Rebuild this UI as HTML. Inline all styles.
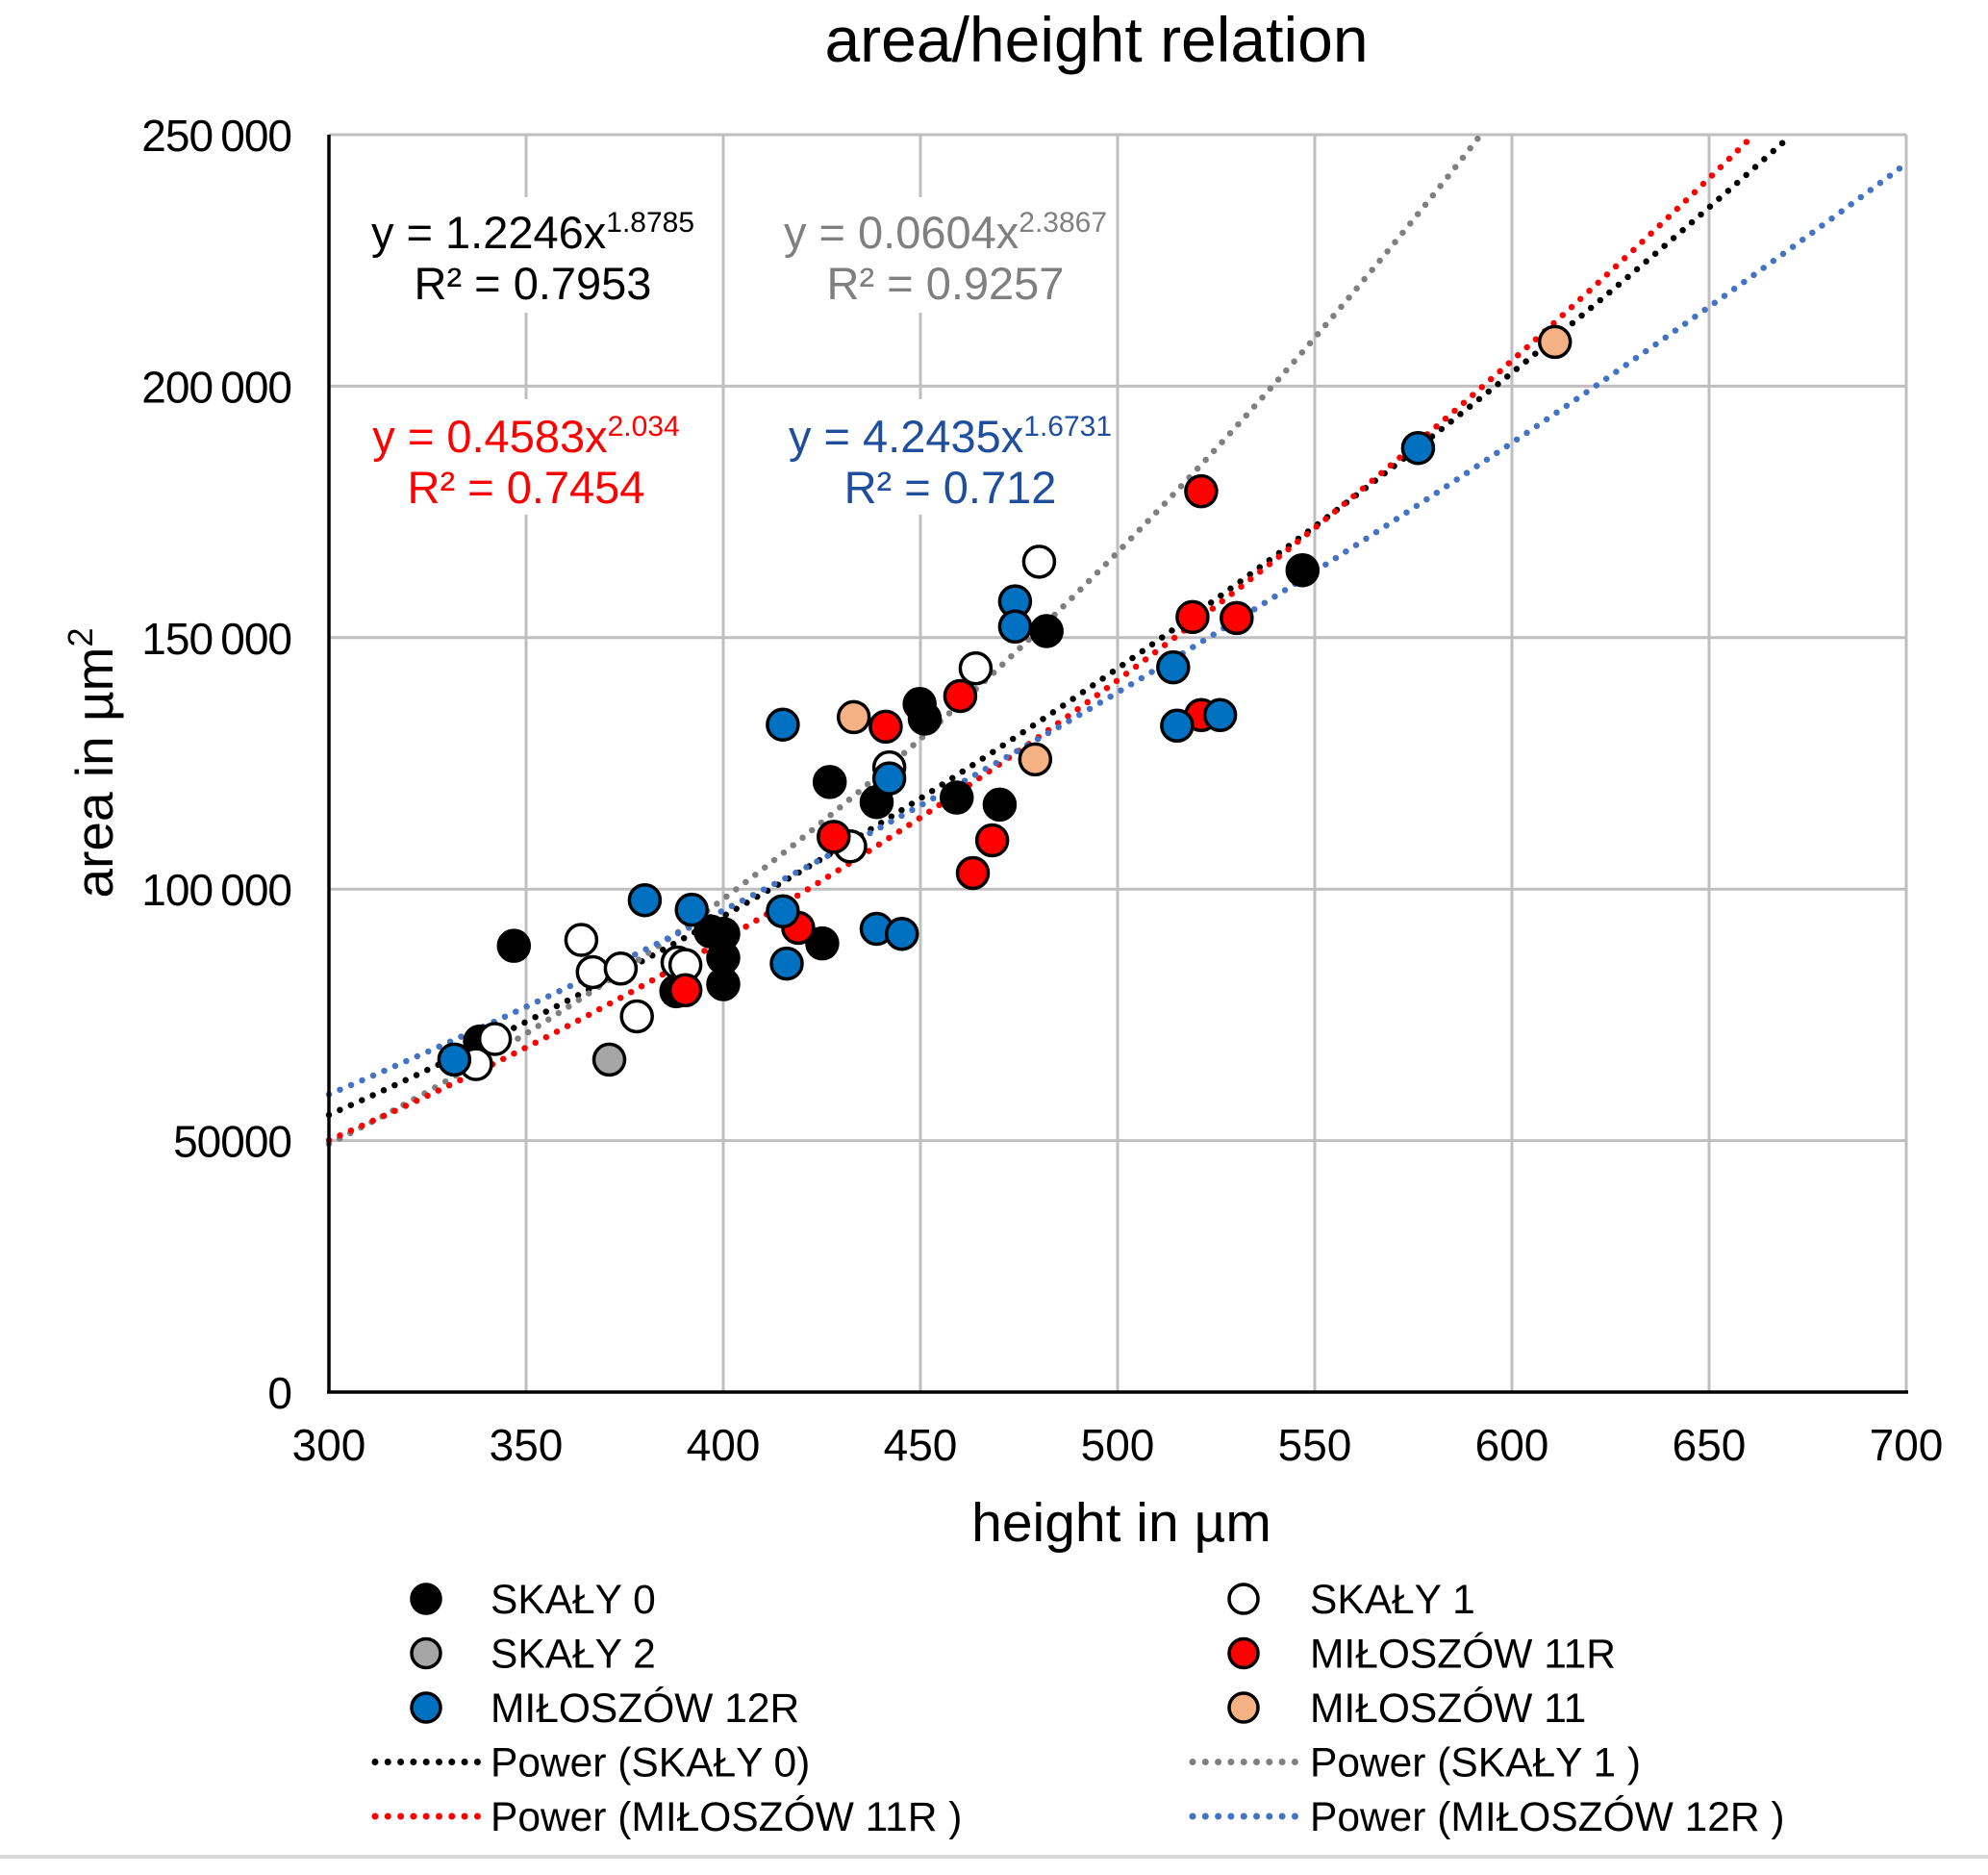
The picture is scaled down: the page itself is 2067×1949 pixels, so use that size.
<!DOCTYPE html>
<html><head><meta charset="utf-8"><style>
html,body{margin:0;padding:0;background:#fff;}
svg{display:block;font-family:"Liberation Sans",Arial,sans-serif;}
</style></head><body>
<svg id="chart" width="2067" height="1949" viewBox="0 0 2067 1949">
<rect x="0" y="0" width="2067" height="1949" fill="#fff"/>
<text x="1140" y="64" font-size="66" text-anchor="middle" fill="#000">area/height relation</text>
<g id="grid"></g>
<g id="ticks"></g>
<g id="eqboxes">
<rect x="370" y="205" width="370" height="120" fill="#fff"/>
<rect x="800" y="205" width="360" height="120" fill="#fff"/>
<rect x="370" y="415" width="370" height="120" fill="#fff"/>
<rect x="800" y="415" width="360" height="120" fill="#fff"/>
</g>
<g id="trends"></g>
<g id="points"></g>
<line x1="342" y1="140" x2="342" y2="1447" stroke="#000" stroke-width="3.5"/>
<line x1="340" y1="1447" x2="1984" y2="1447" stroke="#000" stroke-width="3.5"/>
<g font-size="47" text-anchor="middle">
<text x="554" y="258" fill="#000">y = 1.2246x<tspan dy="-17" font-size="30">1.8785</tspan></text>
<text x="554" y="311" fill="#000">R² = 0.7953</text>
<text x="983" y="258" fill="#808080">y = 0.0604x<tspan dy="-17" font-size="30">2.3867</tspan></text>
<text x="983" y="311" fill="#808080">R² = 0.9257</text>
<text x="547" y="470" fill="#ff0000">y = 0.4583x<tspan dy="-17" font-size="30">2.034</tspan></text>
<text x="547" y="523" fill="#ff0000">R² = 0.7454</text>
<text x="988" y="470" fill="#1f4e9e">y = 4.2435x<tspan dy="-17" font-size="30">1.6731</tspan></text>
<text x="988" y="523" fill="#1f4e9e">R² = 0.712</text>
</g>
<text x="1166" y="1602" font-size="57" text-anchor="middle">height in µm</text>
<text transform="translate(117,793) rotate(-90)" font-size="55" text-anchor="middle">area in µm<tspan dy="-21" font-size="36">2</tspan></text>
<g id="legend"></g>
<line x1="0" y1="1930" x2="2067" y2="1930" stroke="#d9d9d9" stroke-width="4"/>
</svg>
<script>
const xTicks=[300,350,400,450,500,550,600,650,700];
const yTicks=[0,50000,100000,150000,200000,250000];
const yTickLabels=["0","50000","100\u2009000","150\u2009000","200\u2009000","250\u2009000"];
const skaly0X=[346.9,338.3,388.1,396.8,400,400,400,425.1,427,438.9,449.8,451.1,459.2,470.1,482,546.9];
const skaly0Y=[88720,69700,79700,91580,91100,86350,81100,89200,121300,117300,136800,133900,118200,116800,151300,163400];
const skaly1X=[364,366.9,374,378.1,388.4,390.4,342.1,337.3,432.2,442.1,464,480.1];
const skaly1Y=[89900,83500,84200,74700,85400,84900,70200,65200,108500,124200,143900,165100];
const skaly2X=[371.1];
const skaly2Y=[66100];
const m11rX=[390.4,419,428,441.2,460.1,463.3,468.2,519,521.2,521.2,530.2];
const m11rY=[79900,92300,110400,132300,138400,103200,109700,154100,179100,134600,153900];
const m12rX=[331.8,380.1,392,415.1,415.1,416.1,438.9,445.3,442.1,474,474,514.1,515.1,526,576.2];
const m12rY=[66100,97800,95900,132700,95600,85200,92100,91100,122000,157200,152200,144100,132500,134600,187700];
const m11X=[433.1,479.1,610.9];
const m11Y=[134200,125800,208800];
const trendCoef=[1.2246,0.0604,0.4583,4.2435];
const trendExp=[1.8785,2.3867,2.034,1.6731];
const trendColors=["#000000","#7f7f7f","#ff0000","#4472c4"];
const trendNames=["trend-skaly0","trend-skaly1","trend-miloszow11r","trend-miloszow12r"];

const NS="http://www.w3.org/2000/svg";
const X0=342,X1=1982,Y0=1447,Y1=140;
const xs=v=>X0+(v-300)/400*(X1-X0);
const ys=v=>Y0-v/250000*(Y0-Y1);
function mk(tag,attrs,parent){const e=document.createElementNS(NS,tag);for(const k in attrs)e.setAttribute(k,attrs[k]);parent.appendChild(e);return e;}

const grid=document.getElementById('grid'),ticks=document.getElementById('ticks');
xTicks.forEach((t,i)=>{
 const l=mk('line',{x1:xs(t),y1:Y1,x2:xs(t),y2:Y0,stroke:'#bfbfbf','stroke-width':3},grid);
 
 
 const tx=mk('text',{x:xs(t),y:1518,'font-size':46,'text-anchor':'middle'},ticks);
 tx.textContent=String(t);
 
 
});
yTicks.forEach((t,i)=>{
 const l=mk('line',{x1:X0,y1:ys(t),x2:X1,y2:ys(t),stroke:'#bfbfbf','stroke-width':3},grid);
 
 
 const tx=mk('text',{x:303,y:ys(t)+17,'font-size':46,'text-anchor':'end','letter-spacing':'-1'},ticks);
 tx.textContent=yTickLabels[i];
 
 
});

const trends=document.getElementById('trends');
trendCoef.forEach((a,i)=>{
 const b=trendExp[i];let d='';
 for(let x=300;x<=700;x+=1){const y=a*Math.pow(x,b);if(y>250000)break;d+=(d?'L':'M')+xs(x).toFixed(1)+','+ys(y).toFixed(1);}
 const p=mk('path',{d:d,fill:'none',stroke:trendColors[i],'stroke-width':6.5,'stroke-linecap':'round','stroke-dasharray':'0 12.5'},trends);
 
 
});

const series=[
 {x:skaly0X,y:skaly0Y,fill:'#000000',name:'point-skaly0'},
 {x:skaly1X,y:skaly1Y,fill:'#ffffff',name:'point-skaly1'},
 {x:skaly2X,y:skaly2Y,fill:'#a6a6a6',name:'point-skaly2'},
 {x:m11rX,y:m11rY,fill:'#ff0000',name:'point-miloszow11r'},
 {x:m12rX,y:m12rY,fill:'#0070c0',name:'point-miloszow12r'},
 {x:m11X,y:m11Y,fill:'#f4b183',name:'point-miloszow11'}
];
const pts=document.getElementById('points');
series.forEach(s=>{s.x.forEach((xv,j)=>{
 const c=mk('circle',{cx:xs(xv),cy:ys(s.y[j]),r:16,fill:s.fill,stroke:'#000','stroke-width':3.5},pts);
 
 
});});

const leg=document.getElementById('legend');
const legItems=[
 {t:'SKAŁY 0',col:0,row:0,m:'#000000'},{t:'SKAŁY 1',col:1,row:0,m:'#ffffff'},
 {t:'SKAŁY 2',col:0,row:1,m:'#a6a6a6'},{t:'MIŁOSZÓW 11R',col:1,row:1,m:'#ff0000'},
 {t:'MIŁOSZÓW 12R',col:0,row:2,m:'#0070c0'},{t:'MIŁOSZÓW 11',col:1,row:2,m:'#f4b183'},
 {t:'Power (SKAŁY 0)',col:0,row:3,l:'#000000'},{t:'Power (SKAŁY 1 )',col:1,row:3,l:'#7f7f7f'},
 {t:'Power (MIŁOSZÓW 11R )',col:0,row:4,l:'#ff0000'},{t:'Power (MIŁOSZÓW 12R )',col:1,row:4,l:'#4472c4'}
];
legItems.forEach(it=>{
 const base=it.col?1293:443, tx=it.col?1362:510, y=1662+it.row*56.5;
 const g=mk('g',{},leg);
 
 
 if(it.m){mk('circle',{cx:base,cy:y,r:15,fill:it.m,stroke:'#000','stroke-width':3.5},g);}
 else{mk('line',{x1:base-53,y1:y,x2:base+57,y2:y,stroke:it.l,'stroke-width':7,'stroke-linecap':'round','stroke-dasharray':'0 13.3'},g);}
 const t=mk('text',{x:tx,y:y+15,'font-size':42.5},g);
 t.textContent=it.t;
});
</script>
</body></html>
